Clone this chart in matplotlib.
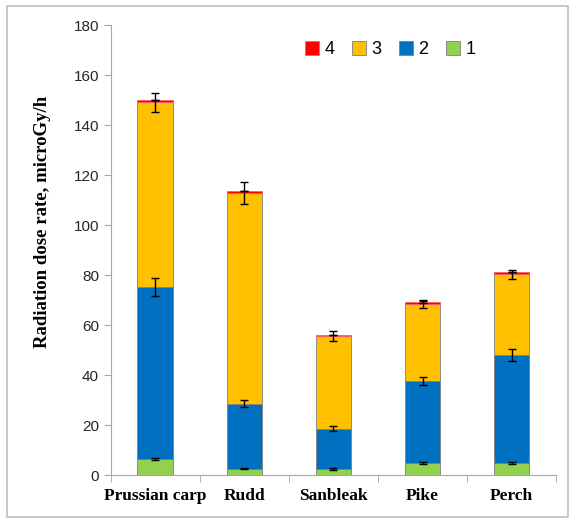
import numpy as np
import matplotlib.pyplot as plt
from matplotlib.patches import Rectangle

# fish species on the x axis
species = ["Prussian carp", "Rudd", "Sanbleak", "Pike", "Perch"]

# dose rate contributions, microGy/h (stacked 1 -> 4)
part1 = [6.4, 2.6, 2.4, 4.8, 5.0]
part2 = [69.0, 26.0, 16.2, 32.8, 43.0]
part3 = [73.8, 84.3, 37.0, 30.8, 32.3]
part4 = [0.7, 0.7, 0.6, 1.0, 1.0]

# error bars (half range) for each stacked level
err1 = [0.4, 0.3, 0.3, 0.4, 0.4]
err2 = [3.6, 1.5, 1.0, 1.7, 2.5]
err3 = [3.8, 4.3, 2.0, 1.6, 1.9]
err4 = [0.0, 0.0, 0.0, 0.4, 0.0]

labels = ["1", "2", "3", "4"]
colors = ["#92D050", "#0070C0", "#FFC000", "#FF0000"]
edges = ["#7F7F7F", "#7F7F7F", "#7F7F7F", "#FF6060"]

fig = plt.figure(figsize=(5.83, 5.24), dpi=100)
ax = fig.add_axes([0.190, 0.0935, 0.764, 0.8585])

# outer frame round the whole chart
fig.patches.append(Rectangle((0.012, 0.0134), 0.962, 0.975, transform=fig.transFigure,
                             fill=False, edgecolor="#BFBFBF", linewidth=1.2))

x = np.arange(len(species))
width = 0.4
bottom = np.zeros(len(species))
handles = []
for vals, errs, lab, col, ec in zip([part1, part2, part3, part4],
                                    [err1, err2, err3, err4], labels, colors, edges):
    vals = np.array(vals)
    b = ax.bar(x, vals, width, bottom=bottom, color=col, edgecolor=ec,
               linewidth=0.6, label=lab, zorder=2)
    handles.append(b)
    top = bottom + vals
    ax.errorbar(x, top, yerr=errs, fmt="none", ecolor="black", elinewidth=1,
                capsize=3, capthick=1, zorder=3)
    bottom = top

ax.set_xlim(-0.5, 4.5)
ax.set_ylim(0, 180)
ax.set_yticks(np.arange(0, 181, 20))
ax.set_xticks(x)
ax.set_xticklabels(species, fontfamily="Liberation Serif", fontweight="bold", fontsize=12.5)
ax.set_xticks(np.arange(-0.5, 5, 1), minor=True)
ax.tick_params(axis="x", which="major", length=0, pad=9)
ax.tick_params(axis="x", which="minor", length=5, color="#A6A6A6", direction="out")
ax.tick_params(axis="y", length=5, color="#A6A6A6", labelsize=11, labelcolor="#262626")
for t in ax.get_yticklabels():
    t.set_fontfamily("Liberation Sans")

for s in ["top", "right"]:
    ax.spines[s].set_visible(False)
for s in ["left", "bottom"]:
    ax.spines[s].set_color("#A6A6A6")

ax.set_ylabel("Radiation dose rate, microGy/h", fontfamily="Liberation Serif",
              fontweight="bold", fontsize=13.5)
ax.yaxis.set_label_coords(-0.135, 0.562)

leg = ax.legend(handles[::-1], labels[::-1], ncol=4, loc="upper left",
                bbox_to_anchor=(0.40, 1.0), frameon=False,
                handlelength=0.75, handleheight=0.75, handletextpad=0.3,
                columnspacing=1.0, prop={"family": "Liberation Sans", "size": 13})

fig.savefig("out.png", dpi=100)
